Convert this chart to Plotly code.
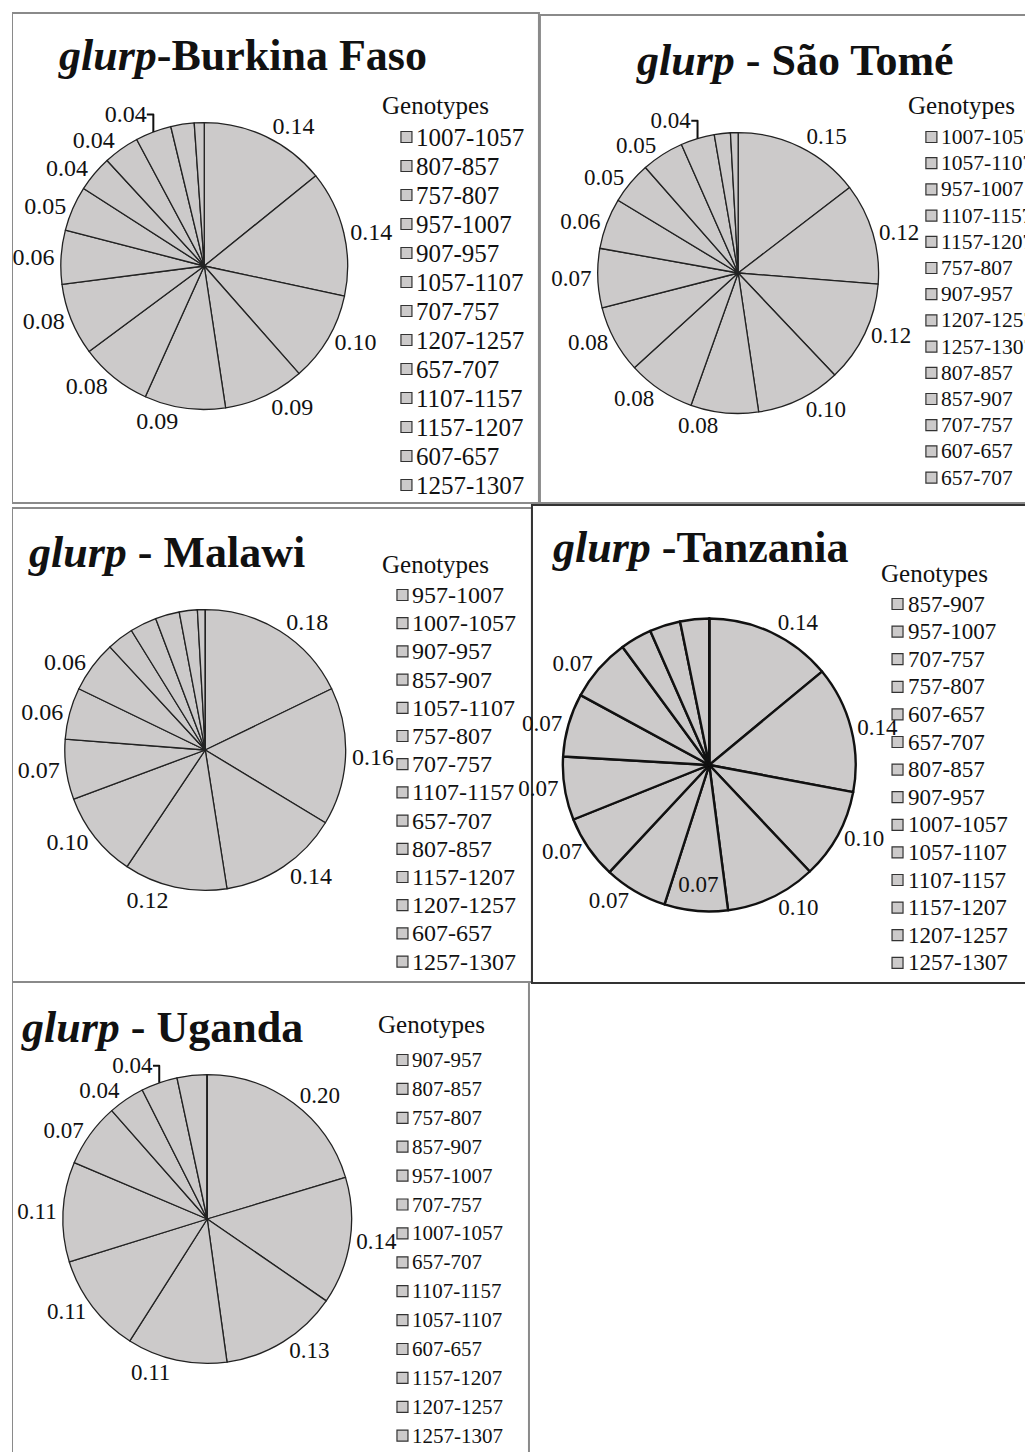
import plotly.graph_objects as go

# page body has an 8px margin: figure is drawn 8px in from the window corner
OFF = 8
W, H = 1033 - OFF, 1452 - OFF

# ---------------- data ----------------
bf_genotypes = ["1007-1057", "807-857", "757-807", "957-1007", "907-957", "1057-1107",
                "707-757", "1207-1257", "657-707", "1107-1157", "1157-1207", "607-657",
                "1257-1307", "857-907"]
bf_values = [0.14, 0.14, 0.10, 0.09, 0.09, 0.08, 0.08, 0.06, 0.05, 0.04, 0.04, 0.04, 0.026, 0.011]
bf_labeled = [1, 1, 1, 1, 1, 1, 1, 1, 1, 1, 1, 1, 0, 0]
bf_legend = bf_genotypes[:13]

st_genotypes = ["1007-1057", "1057-1107", "957-1007", "1107-1157", "1157-1207", "757-807",
                "907-957", "1207-1257", "1257-1307", "807-857", "857-907", "707-757",
                "607-657", "657-707"]
st_values = [0.15, 0.12, 0.12, 0.10, 0.08, 0.08, 0.08, 0.07, 0.06, 0.05, 0.05, 0.04, 0.019, 0.009]
st_labeled = [1, 1, 1, 1, 1, 1, 1, 1, 1, 1, 1, 1, 0, 0]

mw_genotypes = ["957-1007", "1007-1057", "907-957", "857-907", "1057-1107", "757-807",
                "707-757", "1107-1157", "657-707", "807-857", "1157-1207", "1207-1257",
                "607-657", "1257-1307"]
mw_values = [0.18, 0.16, 0.14, 0.12, 0.10, 0.07, 0.06, 0.06, 0.031, 0.031, 0.028, 0.021, 0.009, 0.0]
mw_labeled = [1, 1, 1, 1, 1, 1, 1, 1, 0, 0, 0, 0, 0, 0]

tz_genotypes = ["857-907", "957-1007", "707-757", "757-807", "607-657", "657-707",
                "807-857", "907-957", "1007-1057", "1057-1107", "1107-1157", "1157-1207",
                "1207-1257", "1257-1307"]
tz_values = [0.14, 0.14, 0.10, 0.10, 0.07, 0.07, 0.07, 0.07, 0.07, 0.07, 0.035, 0.034, 0.032, 0.0]
tz_labeled = [1, 1, 1, 1, 2, 1, 1, 1, 1, 1, 0, 0, 0, 0]   # 2 = label drawn inside

ug_genotypes = ["907-957", "807-857", "757-807", "857-907", "957-1007", "707-757",
                "1007-1057", "657-707", "1107-1157", "1057-1107", "607-657", "1157-1207",
                "1207-1257", "1257-1307"]
ug_values = [0.20, 0.14, 0.13, 0.11, 0.11, 0.11, 0.07, 0.04, 0.04, 0.033, 0.0, 0.0, 0.0, 0.0]
ug_labeled = [1, 1, 1, 1, 1, 1, 1, 1, 1, 0, 0, 0, 0, 0]

# ---------------- layout config (window pixel coordinates) ----------------
SERIF = "Liberation Serif"
FILL = "#cccaca"

panels = [
    dict(country="Burkina Faso", sep="-", genotypes=bf_genotypes, values=bf_values,
         labeled=bf_labeled, legend=bf_legend,
         cx=201, cy=266, r=144, line=1.3, linecolor="#222",
         title_x=52, title_y=55, lab_size=24,
         leg_x=377, leg_ty=105, leg_y0=137, leg_dy=29.0, leg_fs=25, sq_x=404,
         box=(8, 13, 537, 503), boxcolor="#8a8a8a"),
    dict(country="São Tomé", sep=" - ", genotypes=st_genotypes, values=st_values,
         labeled=st_labeled, legend=st_genotypes,
         cx=737, cy=273, r=141, line=1.3, linecolor="#222",
         title_x=632, title_y=60, lab_size=23,
         leg_x=905, leg_ty=105, leg_y0=137, leg_dy=26.2, leg_fs=21.5, sq_x=931,
         box=(538, 15, 1045, 503), boxcolor="#8a8a8a"),
    dict(country="Malawi", sep=" - ", genotypes=mw_genotypes, values=mw_values,
         labeled=mw_labeled, legend=mw_genotypes,
         cx=202, cy=750, r=141, line=1.3, linecolor="#222",
         title_x=22, title_y=552, lab_size=24,
         leg_x=377, leg_ty=564, leg_y0=595, leg_dy=28.2, leg_fs=24, sq_x=400,
         box=(8, 508, 530, 982), boxcolor="#8a8a8a"),
    dict(country="Tanzania", sep=" -", genotypes=tz_genotypes, values=tz_values,
         labeled=tz_labeled, legend=tz_genotypes,
         cx=708, cy=765, r=147, line=2.4, linecolor="#111",
         title_x=548, title_y=547, lab_size=23,
         leg_x=878, leg_ty=573, leg_y0=604, leg_dy=27.6, leg_fs=23, sq_x=897,
         box=(530, 505, 1030, 983), boxcolor="#333"),
    dict(country="Uganda", sep=" - ", genotypes=ug_genotypes, values=ug_values,
         labeled=ug_labeled, legend=ug_genotypes,
         cx=204, cy=1219, r=145, line=1.3, linecolor="#222",
         title_x=15, title_y=1027, lab_size=23,
         leg_x=373, leg_ty=1024, leg_y0=1060, leg_dy=28.9, leg_fs=21, sq_x=400,
         box=(8, 982, 527, 1470), boxcolor="#8a8a8a"),
]

fig = go.Figure()
shapes, annotations = [], []

for p in panels:
    cx, cy, r = p["cx"] - OFF, p["cy"] - OFF, p["r"]
    dom_x = [(cx - r) / W, (cx + r) / W]
    dom_y = [1 - (cy + r) / H, 1 - (cy - r) / H]
    texts = [f"{v:.2f}" if lab else "" for v, lab in zip(p["values"], p["labeled"])]
    tpos = ["inside" if lab == 2 else "outside" for lab in p["labeled"]]
    fig.add_trace(go.Pie(
        labels=p["genotypes"], values=p["values"], text=texts, textinfo="text",
        textposition=tpos, insidetextorientation="horizontal",
        sort=False, direction="clockwise", rotation=0,
        marker=dict(colors=[FILL] * len(p["values"]),
                    line=dict(color=p["linecolor"], width=p["line"])),
        textfont=dict(family=SERIF, size=p["lab_size"], color="#111"),
        outsidetextfont=dict(family=SERIF, size=p["lab_size"], color="#111"),
        insidetextfont=dict(family=SERIF, size=p["lab_size"], color="#111"),
        domain=dict(x=dom_x, y=dom_y), showlegend=False, hoverinfo="label+value",
    ))

    # legend squares (scatter on hidden pixel axes)
    n = len(p["legend"])
    ys = [p["leg_y0"] + i * p["leg_dy"] for i in range(n)]
    fig.add_trace(go.Scatter(
        x=[p["sq_x"]] * n, y=ys, mode="markers",
        marker=dict(symbol="square", size=11, color=FILL,
                    line=dict(color="#333", width=1.2)),
        showlegend=False, hoverinfo="skip", xaxis="x", yaxis="y",
    ))
    for name, y in zip(p["legend"], ys):
        annotations.append(dict(x=p["sq_x"] + 8, y=y, xref="x", yref="y", text=name,
                                showarrow=False, xanchor="left", yanchor="middle",
                                font=dict(family=SERIF, size=p["leg_fs"], color="#111")))
    annotations.append(dict(x=p["leg_x"], y=p["leg_ty"], xref="x", yref="y", text="Genotypes",
                            showarrow=False, xanchor="left", yanchor="middle",
                            font=dict(family=SERIF, size=25, color="#111")))
    # title
    annotations.append(dict(x=p["title_x"], y=p["title_y"], xref="x", yref="y",
                            text=f"<b><i>glurp</i>{p['sep']}{p['country']}</b>",
                            showarrow=False, xanchor="left", yanchor="middle",
                            font=dict(family=SERIF, size=44, color="#111")))
    x0, y0, x1, y1 = p["box"]
    shapes.append(dict(type="rect", xref="x", yref="y", x0=x0, y0=y0, x1=x1, y1=y1,
                       line=dict(color=p["boxcolor"], width=2), fillcolor="rgba(0,0,0,0)",
                       layer="below"))

fig.update_layout(
    width=W, height=H, margin=dict(l=0, r=0, t=0, b=0),
    paper_bgcolor="white", plot_bgcolor="rgba(0,0,0,0)",
    xaxis=dict(range=[OFF, OFF + W], visible=False, fixedrange=True, domain=[0, 1]),
    yaxis=dict(range=[OFF + H, OFF], visible=False, fixedrange=True, domain=[0, 1]),
    shapes=shapes, annotations=annotations, showlegend=False,
)

fig.write_html("out.html")
